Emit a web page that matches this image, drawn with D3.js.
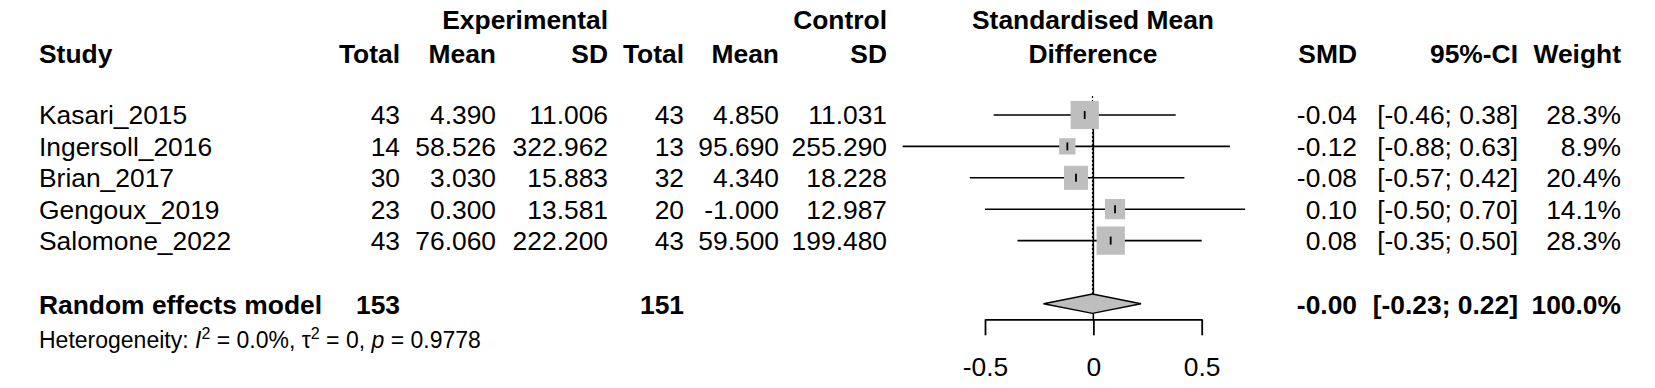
<!DOCTYPE html>
<html>
<head>
<meta charset="utf-8">
<script src="https://cdn.jsdelivr.net/npm/d3@7"></script>
<style>
  body { margin: 0; background: #fff; }
  svg { display: block; font-family: "Liberation Sans", Arial, Helvetica, sans-serif; }
</style>
</head>
<body>
<svg id="drawing_region"></svg>
<script>
// study level data
const studies   = ["Kasari_2015", "Ingersoll_2016", "Brian_2017", "Gengoux_2019", "Salomone_2022"];
const expTotal  = [43, 14, 30, 23, 43];
const expMean   = [4.390, 58.526, 3.030, 0.300, 76.060];
const expSD     = [11.006, 322.962, 15.883, 13.581, 222.200];
const ctrlTotal = [43, 13, 32, 20, 43];
const ctrlMean  = [4.850, 95.690, 4.340, -1.000, 59.500];
const ctrlSD    = [11.031, 255.290, 18.228, 12.987, 199.480];
const smd       = [-0.04, -0.12, -0.08, 0.10, 0.08];
const ciLow     = [-0.46, -0.88, -0.57, -0.50, -0.35];
const ciHigh    = [0.38, 0.63, 0.42, 0.70, 0.50];
const weight    = [28.3, 8.9, 20.4, 14.1, 28.3];

// random effects model
const pooledLabel = "Random effects model";
const pooledExpTotal = 153;
const pooledCtrlTotal = 151;
const pooledSmd = -0.004;
const pooledCi = [-0.23, 0.22];
const pooledWeight = 100.0;

const xTicks = [-0.5, 0, 0.5];

class ForestPlot {

    constructor( config ) {
        this.config = {
            parent: config.parent,
            width: config.width || 1655,
            height: config.height || 388,
            fontSize: config.fontSize || 26.4
        }
        this.init();
    }

    init() {
        let self = this;

        self.svg = d3.select( self.config.parent )
            .attr('width', self.config.width)
            .attr('height', self.config.height);

        self.xscale = d3.scaleLinear()
            .domain( [-0.5, 0.5] )
            .range( [985, 1201.7] );

        self.yscale = d3.scalePoint()
            .domain( studies )
            .range( [115, 240.6] );

        self.boxscale = d3.scaleSqrt()
            .domain( [0, d3.max(weight)] )
            .range( [0, 27.2] );

        self.xaxis = d3.axisBottom( self.xscale )
            .tickValues( xTicks )
            .tickSize( 16 )
            .tickSizeOuter( 0 )
            .tickPadding( 22 )
            .tickFormat( d => d === 0 ? "0" : String(d) );

        self.rows = studies.map( (s, i) => ({
            study: s,
            et: expTotal[i], em: expMean[i], es: expSD[i],
            ct: ctrlTotal[i], cm: ctrlMean[i], cs: ctrlSD[i],
            smd: smd[i], lo: ciLow[i], hi: ciHigh[i], w: weight[i]
        }));
    }

    text( x, y, str, anchor, bold, size ) {
        return this.svg.append('text')
            .attr('x', x)
            .attr('y', y)
            .attr('text-anchor', anchor || 'end')
            .attr('font-size', size || this.config.fontSize)
            .attr('font-weight', bold ? 'bold' : 'normal')
            .attr('fill', 'black')
            .text( str );
    }

    render() {
        let self = this;
        const base = 9.3;   // row centre -> text baseline
        const sumY = 303.7;

        // headers
        self.text(608, 29, "Experimental", 'end', true);
        self.text(887, 29, "Control", 'end', true);
        self.text(1093, 29, "Standardised Mean", 'middle', true);
        self.text(39, 63.3, "Study", 'start', true);
        self.text(400, 63.3, "Total", 'end', true);
        self.text(496, 63.3, "Mean", 'end', true);
        self.text(608, 63.3, "SD", 'end', true);
        self.text(684, 63.3, "Total", 'end', true);
        self.text(779, 63.3, "Mean", 'end', true);
        self.text(887, 63.3, "SD", 'end', true);
        self.text(1093, 63.3, "Difference", 'middle', true);
        self.text(1357, 63.3, "SMD", 'end', true);
        self.text(1518, 63.3, "95%-CI", 'end', true);
        self.text(1621, 63.3, "Weight", 'end', true);

        // study rows
        self.rows.forEach( d => {
            const y = self.yscale( d.study ) + base;
            self.text(39, y, d.study, 'start');
            self.text(400, y, d.et);
            self.text(496, y, d.em.toFixed(3));
            self.text(608, y, d.es.toFixed(3));
            self.text(684, y, d.ct);
            self.text(779, y, d.cm.toFixed(3));
            self.text(887, y, d.cs.toFixed(3));
            self.text(1357, y, d.smd.toFixed(2));
            self.text(1518, y, `[${d.lo.toFixed(2)}; ${d.hi.toFixed(2)}]`);
            self.text(1621, y, `${d.w.toFixed(1)}%`);
        });

        // summary row
        self.text(39, sumY + base + 1, pooledLabel, 'start', true);
        self.text(400, sumY + base + 1, pooledExpTotal, 'end', true);
        self.text(684, sumY + base + 1, pooledCtrlTotal, 'end', true);
        self.text(1357, sumY + base + 1, pooledSmd.toFixed(2), 'end', true);
        self.text(1518, sumY + base + 1, `[${pooledCi[0].toFixed(2)}; ${pooledCi[1].toFixed(2)}]`, 'end', true);
        self.text(1621, sumY + base + 1, `${pooledWeight.toFixed(1)}%`, 'end', true);

        // heterogeneity
        const het = self.svg.append('text')
            .attr('x', 39)
            .attr('y', 348)
            .attr('font-size', 23)
            .attr('fill', 'black');
        het.append('tspan').text("Heterogeneity: ");
        het.append('tspan').attr('font-style', 'italic').text("I");
        het.append('tspan').attr('font-size', 16).attr('dy', -9).text("2");
        het.append('tspan').attr('dy', 9).text(" = 0.0%, \u03c4");
        het.append('tspan').attr('font-size', 16).attr('dy', -9).text("2");
        het.append('tspan').attr('dy', 9).text(" = 0, ");
        het.append('tspan').attr('font-style', 'italic').text("p");
        het.append('tspan').text(" = 0.9778");

        // reference lines
        self.svg.append('line')
            .attr('x1', self.xscale(0)).attr('x2', self.xscale(0))
            .attr('y1', 101).attr('y2', 319.3)
            .attr('stroke', 'black').attr('stroke-width', 1.6);

        self.svg.append('line')
            .attr('x1', self.xscale(pooledSmd)).attr('x2', self.xscale(pooledSmd))
            .attr('y1', 96).attr('y2', sumY - 9.7)
            .attr('stroke', 'black').attr('stroke-width', 1.2)
            .attr('stroke-dasharray', '2,2');

        // confidence intervals
        self.svg.selectAll('line.ci')
            .data(self.rows)
            .enter()
            .append('line')
            .attr('class', 'ci')
            .attr('x1', d => self.xscale(d.lo))
            .attr('x2', d => self.xscale(d.hi))
            .attr('y1', d => self.yscale(d.study))
            .attr('y2', d => self.yscale(d.study))
            .attr('stroke', 'black')
            .attr('stroke-width', 1.6);

        // weight boxes
        self.svg.selectAll('rect.box')
            .data(self.rows)
            .enter()
            .append('rect')
            .attr('class', 'box')
            .attr('x', d => self.xscale(d.smd) - self.boxscale(d.w) / 2)
            .attr('y', d => self.yscale(d.study) - self.boxscale(d.w) / 2)
            .attr('width', d => self.boxscale(d.w))
            .attr('height', d => self.boxscale(d.w))
            .attr('fill', '#bebebe')
            .attr('stroke', '#bebebe');

        // point estimate marks
        self.svg.selectAll('line.est')
            .data(self.rows)
            .enter()
            .append('line')
            .attr('class', 'est')
            .attr('x1', d => self.xscale(d.smd))
            .attr('x2', d => self.xscale(d.smd))
            .attr('y1', d => self.yscale(d.study) - 4)
            .attr('y2', d => self.yscale(d.study) + 4)
            .attr('stroke', 'black')
            .attr('stroke-width', 1.8);

        // diamond
        const dh = 9.7;
        const diamond = [
            [self.xscale(pooledCi[0]), sumY],
            [self.xscale(pooledSmd), sumY - dh],
            [self.xscale(pooledCi[1]), sumY],
            [self.xscale(pooledSmd), sumY + dh]
        ];
        self.svg.append('path')
            .attr('d', d3.line()(diamond) + 'Z')
            .attr('fill', '#bebebe')
            .attr('stroke', 'black')
            .attr('stroke-width', 1.4);

        // x axis
        self.xaxis_group = self.svg.append('g')
            .attr('transform', `translate(0, 319.3)`)
            .call( self.xaxis );

        self.xaxis_group.select('.domain')
            .attr('stroke-width', 1.8);
        self.xaxis_group.selectAll('.tick line')
            .attr('stroke-width', 1.8);
        self.xaxis_group.selectAll('.tick text')
            .attr('font-size', self.config.fontSize)
            .attr('font-family', '"Liberation Sans", Arial, sans-serif')
            .attr('fill', 'black');
    }
}

const forest_plot = new ForestPlot({
    parent: '#drawing_region',
    width: 1655,
    height: 388,
    fontSize: 26.4
});
forest_plot.render();
</script>
</body>
</html>
